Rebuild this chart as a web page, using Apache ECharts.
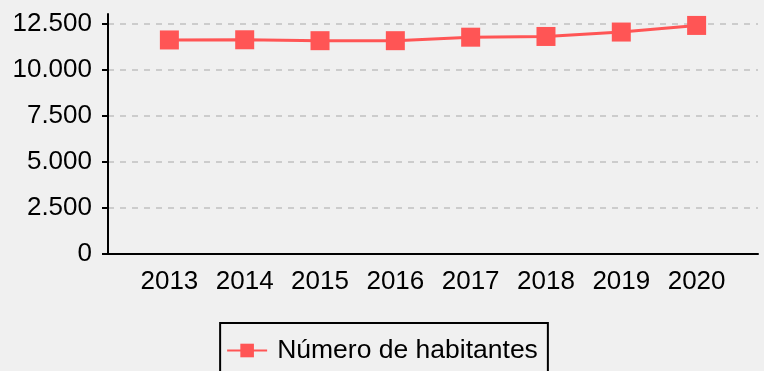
<!DOCTYPE html>
<html>
<head>
<meta charset="utf-8">
<style>
  html, body { margin: 0; padding: 0; background: #f0f0f0; }
  #chart { width: 764px; height: 371px; }
</style>
<script src="https://cdn.jsdelivr.net/npm/echarts@6/dist/echarts.min.js"></script>
</head>
<body>
<div id="chart"></div>
<script>
// Population by year
const years = [2013, 2014, 2015, 2016, 2017, 2018, 2019, 2020];
const habitantes = [11640, 11650, 11600, 11600, 11790, 11830, 12070, 12430];
const yTicks = [0, 2500, 5000, 7500, 10000, 12500];
const seriesName = 'Número de habitantes';

const fontFamily = '"Liberation Sans", Arial, sans-serif';
const lineColor = '#ff5555';

// Thousands separator as in Spanish locale
function fmt(v) {
  return String(Math.round(v)).replace(/\B(?=(\d{3})+(?!\d))/g, '.');
}

const chart = echarts.init(document.getElementById('chart'), null, { renderer: 'canvas' });

const yMax = Math.max(...habitantes) * 1.05;

chart.setOption({
  backgroundColor: '#f0f0f0',
  animation: false,
  textStyle: { fontFamily: fontFamily },
  grid: { left: 108, right: 6, top: 14, bottom: 117, containLabel: false },
  xAxis: {
    type: 'value',
    min: years[0] - 0.815,
    max: years[years.length - 1] + 0.815,
    axisLine: { show: true, onZero: false, lineStyle: { color: '#000', width: 2 } },
    axisTick: { show: false, customValues: years },
    splitLine: { show: false },
    axisLabel: {
      customValues: years,
      color: '#000',
      fontSize: 26,
      fontFamily: fontFamily,
      margin: 15,
      formatter: v => String(v)
    }
  },
  yAxis: {
    type: 'value',
    min: 0,
    max: yMax,
    axisLine: { show: true, lineStyle: { color: '#000', width: 2 } },
    axisTick: { show: true, length: 6, customValues: yTicks, lineStyle: { color: '#000', width: 2 } },
    splitLine: {
      show: true,
      lineStyle: { color: '#cccccc', width: 2, type: [6, 6] }
    },
    axisLabel: {
      customValues: yTicks,
      color: '#000',
      fontSize: 26,
      fontFamily: fontFamily,
      margin: 16,
      formatter: v => fmt(v)
    }
  },
  legend: {
    top: 323,
    left: 'center',
    borderColor: '#000',
    borderWidth: 2,
    padding: [14, 10, 20, 6],
    itemWidth: 40,
    itemHeight: 17,
    textStyle: { color: '#000', fontSize: 26.5, fontFamily: fontFamily, padding: [0, 0, 0, 5] },
    data: [seriesName]
  },
  series: [{
    name: seriesName,
    type: 'line',
    data: years.map((y, i) => [y, habitantes[i]]),
    symbol: 'rect',
    symbolSize: 19,
    itemStyle: { color: lineColor },
    lineStyle: { color: lineColor, width: 3 },
    z: 5
  }]
});
</script>
</body>
</html>
